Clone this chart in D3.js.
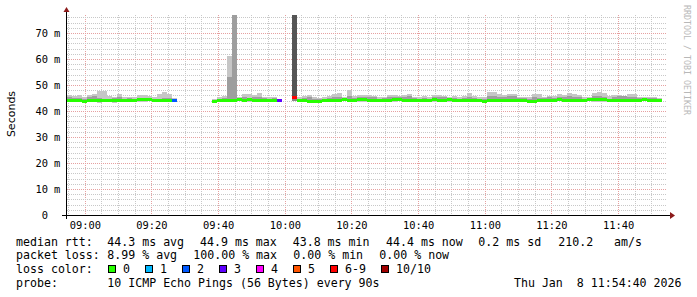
<!DOCTYPE html>
<html><head><meta charset="utf-8">
<script src="https://cdn.jsdelivr.net/npm/d3@7"></script>
<style>
html,body{margin:0;padding:0;background:#fff;}
svg{display:block;}
text{white-space:pre;}
</style></head><body>
<svg id="c" width="697" height="297"></svg>
<script>
// ---- time frame ----
const START = Date.UTC(2026, 0, 8, 8, 54, 40);
const END = Date.UTC(2026, 0, 8, 11, 54, 40);
const STEP_SEC = 90;
const Y_MAX = 76.923;

// ---- data segments (values in ms), step index of each segment start ----
const segStarts = [0, 29, 45];

const median1 = [44.2,44.3,44.1,44.0,44.3,44.2,44.4,44.2,44.1,44.2,44.4,44.3,44.2,44.3,44.5,44.7,44.6,44.3,44.2,44.4,44.3,44.1];
const hi1     = [46.3,45.8,46.2,45.2,46.0,46.6,47.5,47.8,45.6,45.4,46.6,45.2,45.3,45.5,46.2,46.0,45.8,45.3,46.4,47.4,46.4,45.0];
const lo1     = [43.3,43.8,43.6,43.9,43.6,43.6,43.2,43.5,43.7,43.2,43.5,43.8,43.7,43.8,43.5,43.6,43.7,43.8,43.6,43.5,43.7,43.9];
const coreHi1 = [45.5,44.9,45.0,44.8,45.4,45.7,44.9,44.8,44.8,44.9,45.3,44.8,44.9,44.8,44.9,45.1,45.0,44.8,44.8,45.0,45.0,44.6];
const coreLo1 = [43.8,44.0,43.9,44.0,43.9,43.8,43.9,43.9,44.0,43.9,43.8,44.0,44.0,44.0,43.9,43.8,43.9,44.0,43.9,43.9,43.9,44.0];

const median2 = [44.0,44.1,44.2,44.3,44.2,44.5,44.3,44.6,44.4,44.2,44.3,44.4,44.3,44.2];
const hi2     = [44.7,45.2,45.6,61.2,80.0,45.2,46.4,46.5,46.2,46.8,45.5,45.2,45.4,44.8];
const lo2     = [43.8,43.7,43.4,43.3,43.6,43.7,43.5,43.6,43.4,43.6,43.6,43.7,43.6,43.9];
const coreHi2 = [44.4,44.8,45.0,53.0,80.0,44.9,45.4,45.0,45.2,45.3,44.9,44.8,44.9,44.6];
const coreLo2 = [44.0,43.9,43.8,43.8,43.9,43.9,43.8,43.9,43.8,43.9,43.9,43.9,43.9,44.0];

const median3 = [
  45.2,44.3,44.2,44.0,43.7,43.8,44.2,44.3,44.4,44.2,
  44.5,44.3,44.4,44.6,44.5,44.3,44.4,44.2,44.3,44.4,
  44.6,44.5,44.2,44.3,44.4,44.3,44.2,44.3,44.6,44.3,
  44.4,44.6,44.3,44.2,44.3,44.4,44.1,44.3,43.7,44.3,
  44.4,44.2,44.2,44.2,44.3,44.4,44.3,43.8,44.0,44.3,
  44.2,44.4,44.3,44.6,44.1,44.3,44.2,44.3,44.4,44.5,
  44.7,44.7,44.6,44.2,44.1,44.3,44.4,44.2,44.3,44.4,
  44.5,44.3,44.4,44.2];
const hi3 = [
  80.0,45.4,45.6,46.3,45.2,45.0,45.5,45.8,46.6,47.0,
  45.5,48.0,45.6,46.2,46.2,46.0,45.9,45.4,45.2,46.1,
  46.3,45.8,46.2,46.5,45.4,45.3,45.6,45.2,46.0,46.1,
  45.8,45.3,45.6,45.2,45.8,47.0,45.6,45.2,45.3,47.2,
  47.3,46.5,46.3,46.4,46.4,45.5,45.4,45.2,46.4,46.5,
  45.3,45.8,45.6,46.6,46.3,46.8,46.6,46.1,45.2,45.4,
  47.0,47.2,46.8,45.6,46.3,46.0,45.6,46.4,46.6,45.5,
  45.2,45.3,45.5,45.1];
const lo3 = [
  43.8,43.5,43.6,43.4,43.3,43.4,43.7,43.8,43.6,43.5,
  43.7,43.6,43.8,43.5,43.4,43.7,43.6,43.8,43.7,43.5,
  43.6,43.8,43.4,43.7,43.6,43.8,43.7,43.5,43.6,43.8,
  43.7,43.6,43.8,43.7,43.5,43.4,43.7,43.6,43.2,43.5,
  43.6,43.7,43.3,43.5,43.6,43.7,43.8,43.3,43.4,43.6,
  43.7,43.6,43.5,43.7,43.8,43.6,43.5,43.7,43.6,43.8,
  43.5,43.4,43.6,43.7,43.8,43.6,43.5,43.7,43.6,43.7,
  43.8,43.6,43.7,43.8];
const coreHi3 = [
  80.0,44.8,45.0,45.2,44.6,44.5,44.8,45.0,45.3,45.4,
  45.0,45.8,45.0,45.4,45.4,45.2,45.2,44.8,44.9,45.3,
  45.4,45.2,45.3,45.6,44.9,44.8,45.0,44.8,45.3,45.4,
  45.2,45.1,45.0,44.8,45.1,45.5,44.9,44.8,44.8,45.6,
  45.6,45.4,45.2,45.8,45.6,45.0,44.9,44.8,45.3,45.0,
  44.9,45.2,45.0,45.4,45.4,45.6,45.5,45.3,44.8,45.0,
  45.6,45.8,45.5,44.7,45.2,45.6,45.8,45.2,45.3,45.0,
  44.9,44.9,45.0,44.8];
const coreLo3 = [
  44.6,43.9,43.9,43.7,43.5,43.5,43.9,44.0,44.0,43.9,
  44.1,43.9,44.0,44.1,44.0,43.9,44.0,43.9,44.0,44.0,
  43.9,44.1,43.8,44.0,44.0,43.9,43.9,44.0,44.1,44.0,
  44.0,44.2,44.0,43.9,43.9,43.9,43.8,44.0,43.5,43.9,
  44.0,43.9,43.8,43.8,44.0,44.0,43.9,43.6,43.7,43.9,
  43.9,44.0,44.0,43.9,43.8,44.0,43.9,44.0,44.0,44.1,
  44.2,44.1,44.0,43.9,43.8,44.0,44.0,43.9,44.0,44.0,
  44.1,44.0,44.0,43.9];

// steps with packet loss (step index, pings lost out of 10)
const lossStep  = [21, 42, 45];
const lossCount = [2, 3, 7];

// ---- axes / legend text ----
const yTickValues = [0, 10, 20, 30, 40, 50, 60, 70];
const lossLabels = ["0", "1", "2", "3", "4", "5", "6-9", "10/10"];
const lossColors = ["#26ff00", "#00b8ff", "#0059ff", "#5e00ff", "#ff00fe", "#ff5500", "#ff0000", "#a10000"];
const rttStats = ["44.3 ms avg", "44.9 ms max", "43.8 ms min", "44.4 ms now", "0.2 ms sd", "210.2", "am/s"];
const lossStats = ["8.99 % avg", "100.00 % max", "0.00 % min", "0.00 % now"];
const probeText = "10 ICMP Echo Pings (56 Bytes) every 90s";
const dateText = "Thu Jan  8 11:54:40 2026";

// ---- build step records ----
const segs = [
  {start: segStarts[0], med: median1, hi: hi1, lo: lo1, chi: coreHi1, clo: coreLo1},
  {start: segStarts[1], med: median2, hi: hi2, lo: lo2, chi: coreHi2, clo: coreLo2},
  {start: segStarts[2], med: median3, hi: hi3, lo: lo3, chi: coreHi3, clo: coreLo3}
];
const steps = [];
segs.forEach(s => s.med.forEach((m, k) => {
  const i = s.start + k;
  const li = lossStep.indexOf(i);
  steps.push({
    t0: new Date(START + i * STEP_SEC * 1000),
    t1: new Date(START + (i + 1) * STEP_SEC * 1000),
    med: m,
    hi: s.hi[k] ?? m, lo: s.lo[k] ?? m,
    chi: s.chi[k] ?? m, clo: s.clo[k] ?? m,
    loss: li >= 0 ? lossCount[li] : 0
  });
}));
function lossColor(n) {
  if (n <= 5) return lossColors[n];
  if (n < 10) return lossColors[6];
  return lossColors[7];
}

// ---- layout ----
const L = 67, R = 667, T = 15, B = 215;
const svg = d3.select("#c");
const x = d3.scaleUtc().domain([new Date(START), new Date(END)]).range([L, R]);
const y = d3.scaleLinear().domain([0, Y_MAX]).range([B, T]);

svg.append("rect").attr("width", 697).attr("height", 297).attr("fill", "#fff");
svg.append("defs").append("clipPath").attr("id", "plot")
  .append("rect").attr("x", L).attr("y", T).attr("width", R - L).attr("height", B - T);

// ---- grid ----
const grid = svg.append("g").attr("shape-rendering", "crispEdges");
const minorT = d3.utcMinute.every(5).range(new Date(START), new Date(END));
minorT.forEach(t => {
  const major = t.getUTCMinutes() % 20 === 0;
  const px = Math.round(x(t)) + 0.5;
  grid.append("line").attr("x1", px).attr("x2", px).attr("y1", T).attr("y2", B)
    .attr("stroke", major ? "#e6a0a0" : "#c8c8c8").attr("stroke-dasharray", "1,1");
});
d3.range(2, Y_MAX, 2).forEach(v => {
  const major = v % 10 === 0;
  const py = Math.round(y(v)) + 0.5;
  grid.append("line").attr("x1", L).attr("x2", R).attr("y1", py).attr("y2", py)
    .attr("stroke", major ? "#e6a0a0" : "#c8c8c8").attr("stroke-dasharray", "1,1");
});

// ---- smoke & median ----
const plot = svg.append("g").attr("clip-path", "url(#plot)").attr("shape-rendering", "crispEdges");
plot.selectAll("rect.outer").data(steps).join("rect").attr("class", "outer")
  .attr("x", d => Math.round(x(d.t0))).attr("width", d => Math.round(x(d.t1)) - Math.round(x(d.t0)))
  .attr("y", d => Math.round(y(d.hi))).attr("height", d => Math.round(y(d.lo)) - Math.round(y(d.hi)))
  .attr("fill", d => d.loss >= 5 ? "#8a8a8a" : "#c6c6c6");
plot.selectAll("rect.core").data(steps).join("rect").attr("class", "core")
  .attr("x", d => Math.round(x(d.t0))).attr("width", d => Math.round(x(d.t1)) - Math.round(x(d.t0)))
  .attr("y", d => Math.round(y(d.chi))).attr("height", d => Math.round(y(d.clo)) - Math.round(y(d.chi)))
  .attr("fill", d => d.loss >= 5 ? "#555555" : "#9e9e9e");
plot.selectAll("rect.med").data(steps).join("rect").attr("class", "med")
  .attr("x", d => Math.round(x(d.t0))).attr("width", d => Math.round(x(d.t1)) - Math.round(x(d.t0)))
  .attr("y", d => Math.round(y(d.med)) - 1).attr("height", 3)
  .attr("fill", d => lossColor(d.loss));

// ---- axes ----
const ax = svg.append("g").attr("shape-rendering", "crispEdges");
ax.append("line").attr("x1", 62).attr("x2", 671).attr("y1", B + 0.5).attr("y2", B + 0.5).attr("stroke", "#000");
ax.append("line").attr("x1", L - 0.5).attr("x2", L - 0.5).attr("y1", B + 4).attr("y2", 11).attr("stroke", "#000");
svg.append("path").attr("d", `M${R + 3},${B - 3} L${R + 8},${B + 0.5} L${R + 3},${B + 4} Z`).attr("fill", "#8b1a1a");
svg.append("path").attr("d", `M${L - 3.5},${12} L${L - 0.5},${7} L${L + 2.5},${12} Z`).attr("fill", "#8b1a1a");

const mono = "'DejaVu Sans Mono', monospace";
const yl = svg.append("g").attr("font-family", mono).attr("font-size", 10.4).attr("fill", "#000");
yTickValues.forEach(v => {
  const py = Math.round(y(v) + 3.8);
  yl.append("text").attr("x", 48).attr("y", py).attr("text-anchor", "end").text(d3.format("d")(v));
  if (v > 0) yl.append("text").attr("x", 54).attr("y", py).text("m");
});
const xl = svg.append("g").attr("font-family", mono).attr("font-size", 10.4).attr("fill", "#000");
d3.utcMinute.every(20).range(new Date(START), new Date(END)).forEach(t => {
  xl.append("text").attr("x", x(t) + 0.5).attr("y", 228.8).attr("text-anchor", "middle")
    .text(d3.utcFormat("%H:%M")(t));
});

svg.append("text").attr("transform", "translate(15,114) rotate(-90)")
  .attr("text-anchor", "middle").attr("font-family", "'DejaVu Sans', sans-serif")
  .attr("font-size", 11).attr("fill", "#000").text("Seconds");

svg.append("text").attr("transform", "translate(684,5) rotate(90)")
  .attr("font-family", mono).attr("font-size", 8.3).attr("fill", "#b8b8b8")
  .text("RRDTOOL / TOBI OETIKER");

// ---- legend ----
const lg = svg.append("g").attr("font-family", mono).attr("font-size", 11.6).attr("fill", "#000");
const rowY = [245.6, 259.2, 272.9, 286.5];
lg.append("text").attr("x", 16).attr("y", rowY[0]).text("median rtt:");
const rttX = [107.3, 200, 292.7, 386, 478.3, 558.3, 614];
rttStats.forEach((s, i) => lg.append("text").attr("x", rttX[i]).attr("y", rowY[0]).text(s));
lg.append("text").attr("x", 16).attr("y", rowY[1]).text("packet loss:");
const lossX = [107.3, 193.3, 293.3, 379.3];
lossStats.forEach((s, i) => lg.append("text").attr("x", lossX[i]).attr("y", rowY[1]).text(s));
lg.append("text").attr("x", 16).attr("y", rowY[2]).text("loss color:");
const boxX = [108.5, 145.5, 182.5, 219.5, 256.5, 293.5, 330.5, 381.5];
lossLabels.forEach((s, i) => {
  lg.append("rect").attr("x", boxX[i]).attr("y", 265.5).attr("width", 7).attr("height", 7)
    .attr("fill", lossColors[i]).attr("stroke", "#000").attr("stroke-width", 1);
  lg.append("text").attr("x", boxX[i] + 14.5).attr("y", rowY[2]).text(s);
});
lg.append("text").attr("x", 16).attr("y", rowY[3]).text("probe:");
lg.append("text").attr("x", 107.3).attr("y", rowY[3]).text(probeText);
lg.append("text").attr("x", 681.5).attr("y", rowY[3]).attr("text-anchor", "end").text(dateText);
</script>
</body></html>
